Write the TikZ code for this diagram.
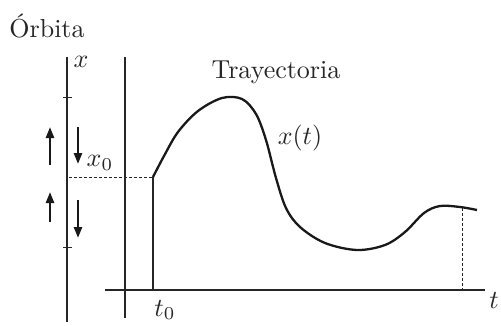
\documentclass[tikz,border=0pt]{standalone}
\usetikzlibrary{arrows.meta}
\begin{document}
\begin{tikzpicture}[x=1pt,y=-1pt,
  axisline/.style={line width=1.1pt,black!85},
  tickline/.style={line width=0.9pt,black!85},
  dotline/.style={line width=1pt,dash pattern=on 3pt off 2pt,black!85},
  flow/.style={line width=2.4pt,-{Triangle[length=11pt,width=8pt]},black!90},
  traj/.style={line width=2.3pt,black!90,line join=round},
  lbl/.style={font=\fontsize{10}{12}\selectfont,scale=2.6,transform shape,inner sep=0pt,black!85}]
\useasboundingbox (0,0) rectangle (501,325);
% labels
\node[lbl] (orb) at (47,26) {Órbita};
\node[lbl] (tray) at (276,72) {Trayectoria};
\node[lbl] (xl) at (81,62) {$x$};
\node[lbl] (x0) at (100,163) {$x_0$};
\node[lbl] (xt) at (300,138) {$x(t)$};
\node[lbl] (t0) at (165,310) {$t_0$};
\node[lbl] (tl) at (494,300) {$t$};
% orbit axis
\coordinate (oa) at (67,57);
\coordinate (ob) at (67,322);
\draw[axisline] (oa) -- (ob);
\coordinate (k1a) at (63,97); \coordinate (k1b) at (72,97);
\coordinate (k2a) at (63,247); \coordinate (k2b) at (72,247);
\draw[tickline] (k1a) -- (k1b);
\draw[tickline] (k2a) -- (k2b);
% flow arrows
\coordinate (u1a) at (50,165); \coordinate (u1b) at (50,127);
\coordinate (d1a) at (78,127); \coordinate (d1b) at (78,164);
\coordinate (u2a) at (50,222); \coordinate (u2b) at (50,192);
\coordinate (d2a) at (78,200); \coordinate (d2b) at (78,238);
\draw[flow] (u1a) -- (u1b);
\draw[flow] (d1a) -- (d1b);
\draw[flow] (u2a) -- (u2b);
\draw[flow] (d2a) -- (d2b);
% time axes
\coordinate (ta) at (125,57);
\coordinate (tb) at (125,318);
\draw[axisline] (ta) -- (tb);
\coordinate (ha) at (105,290);
\coordinate (hb) at (485,290);
\draw[axisline] (ha) -- (hb);
% start
\coordinate (s) at (153,177);
\coordinate (sb) at (153,290);
\coordinate (da) at (69,177);
\draw[axisline] (s) -- (sb);
\draw[dotline] (da) -- (s);
% end
\coordinate (e) at (462,208);
\coordinate (eb) at (462,290);
\draw[dotline] (e) -- (eb);
% trajectory
\draw[traj] plot[smooth,tension=0.55] coordinates {(153,177) (164,156) (178,132) (198,111) (222,98) (242,99) (256,114) (266,140) (276,178) (286,208) (300,227) (325,243) (357,250) (385,245) (405,232) (424,213) (440,206) (460,207) (477,210)};
\end{tikzpicture}
\end{document}
